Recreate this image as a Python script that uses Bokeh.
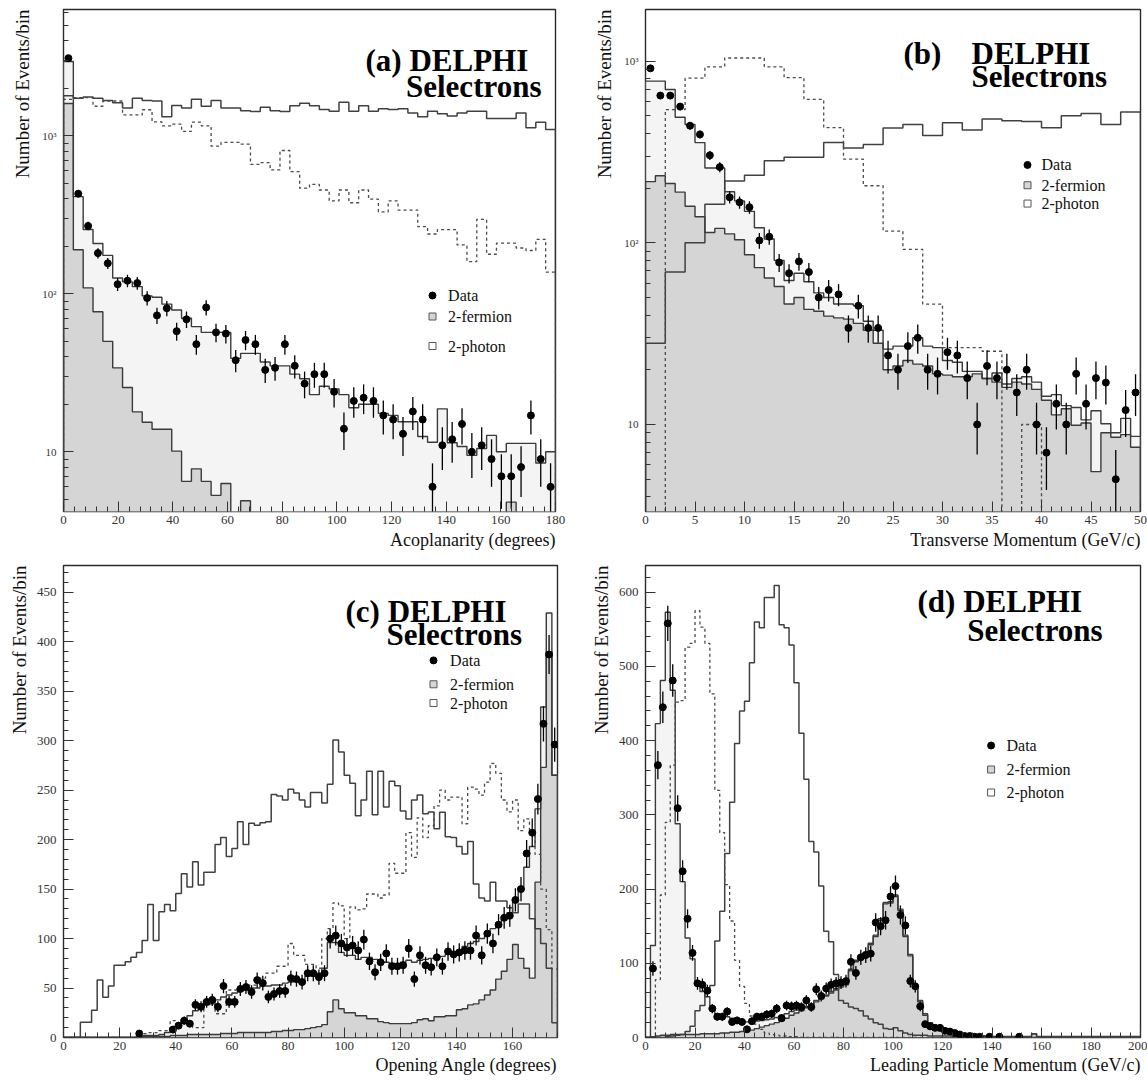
import numpy as np
from bokeh.plotting import figure
from bokeh.layouts import column, row
from bokeh.models import Range1d, FixedTicker, Label, Title, CustomJSTickFormatter
from bokeh.embed import file_html
from bokeh.resources import INLINE

FONT = "Liberation Serif"
FERMION_FILL = "#d5d5d5"
PHOTON_FILL = "#f4f4f4"
HIST_LINE = "#3a3a3a"
SIG_LINE = "#404040"
DASH_LINE = "#4a4a4a"

# ---------------- (a) Acoplanarity, 50 bins of 3.6 degrees ----------------
acop_edges = np.linspace(0, 180, 51)
acop_data = [3100, 430, 269, 181, 156, 115, 121, 117, 94, 73,
             81, 58, 69, 48, 82, 57, 56, 38, 51, 48,
             33, 34, 48, 35, 27, 31, 31, 24, 14, 21,
             22, 21, 17, 16, 13, 18, 16, 6, 11, 12,
             15, 10, 11, 9, 7, 7, 8, 17, 9, 6]
acop_total = [2950, 412, 255, 208, 175, 126, 119, 111, 97, 95,
              86, 79, 70, 62, 57, 57, 57, 39, 42, 42,
              37, 35, 35, 31, 29, 23, 26, 25, 23, 19,
              20, 20, 17.5, 17, 15.5, 15.5, 12.5, 11.5, 18.7, 11.4,
              10.8, 9.5, 10.5, 12.7, 10, 11.3, 11.3, 11.3, 8.5, 10]
acop_fermion = [1600, 190, 109, 77, 50, 34, 25.5, 17.9, 15.4, 13.9,
                13.9, 10.1, 6.5, 7.8, 6.5, 5.3, 6.3, 0, 4.9, 0,
                0, 0, 0, 0, 0, 0, 0, 0, 0, 0,
                0, 0, 0, 0, 0, 0, 0, 0, 0, 0,
                0, 0, 0, 0, 0, 4.8, 0, 0, 0, 0]
acop_sig_solid = [1791, 1727, 1763, 1727, 1675, 1617, 1499, 1727, 1675, 1660,
                  1321, 1553, 1499, 1702, 1538, 1675, 1499, 1499, 1440, 1425,
                  1514, 1440, 1425, 1549, 1608, 1549, 1469, 1430, 1630, 1430,
                  1549, 1430, 1485, 1469, 1485, 1392, 1320, 1430, 1377, 1334,
                  1392, 1430, 1430, 1286, 1286, 1286, 1392, 1125, 1219, 1095]
acop_sig_dashed = [1702, 1745, 1745, 1538, 1660, 1660, 1355, 1355, 1462, 1224,
                   1156, 1186, 1067, 1219, 1156, 861, 908, 908, 885, 659,
                   677, 608, 807, 593, 466, 492, 454, 387, 454, 377,
                   454, 397, 330, 387, 339, 339, 266, 239, 255, 255,
                   204, 160, 296, 178, 209, 209, 195, 188, 221, 137]

# ---------------- (b) Transverse momentum, 1 GeV bins (signal 2 GeV) ----------------
pt_edges = np.arange(0, 51, 1)
pt_sig_edges = np.arange(0, 51, 2)
pt_data = [912, 646, 646, 562, 441, 395, 303, 261, 178, 167,
           157, 103, 108, 78, 68, 79, 69, 50, 55, 52,
           34, 45, 34, 34, 24, 20, 27, 30, 20, 19,
           25, 24, 18, 10, 21, 18, 20, 15, 20, 10,
           7, 13, 10, 19, 13, 18, 17, 5, 12, 15]
pt_total = [776, 776, 698, 491, 448, 356, 258, 258, 191, 170,
            149, 121, 105, 80, 62, 68, 61, 53, 50, 46,
            46, 45, 37, 33, 26, 27, 27, 30, 27, 26.5,
            22.5, 22, 19.6, 19.6, 17.9, 19.2, 16.7, 17.9, 18.3, 17.1,
            14.3, 14.6, 12.7, 12.4, 10.6, 11.9, 10.1, 9.0, 10.8, 8.6]
pt_fermion = [217, 234, 212, 190, 159, 139, 114, 120, 112, 104,
              86, 73, 64, 57.5, 46, 50, 43, 42, 39.5, 38.6,
              38, 36, 33, 28, 20, 21, 22.5, 21.5, 21, 19,
              18.7, 18.3, 18.3, 19, 17.9, 17.1, 16, 17.1, 16.7, 15.6,
              13.6, 11.3, 12.2, 9.9, 10.2, 5.5, 9, 8.5, 8.8, 7.5]
pt_sig_solid = [28, 69, 100, 163, 219, 235, 283, 296, 296, 356,
                332, 348, 428, 448, 390, 458, 418, 480, 470, 465,
                430, 500, 514, 448, 525]
pt_sig_dashed = [0, 540, 805, 930, 1040, 1040, 930, 812, 615, 430,
                 289, 206, 116, 92, 46, 26.5, 26.5, 25.3, 0, 10,
                 0, 0, 0, 0, 0]

# ---------------- (c) Opening angle, 2 degree bins ----------------
open_edges = np.arange(0, 177, 2)
open_data = [0, 0, 0, 0, 0, 0, 0, 0, 0, 0,
             0, 0, 0, 4, 0, 0, 0, 0, 0, 8,
             12, 17, 14, 33, 31, 36, 38, 31, 52, 36,
             36, 49, 51, 46, 58, 55, 41, 44, 47, 47,
             60, 59, 56, 65, 65, 61, 65, 100, 103, 95,
             91, 93, 88, 99, 77, 66, 76, 85, 72, 72,
             73, 90, 59, 83, 73, 71, 81, 72, 87, 84,
             86, 88, 88, 103, 83, 105, 95, 114, 121, 123,
             139, 150, 186, 207, 241, 317, 387, 296]
open_total = [0, 0, 0, 0, 0, 0, 0, 0, 0, 0,
              0, 0, 0, 2, 2, 2, 2, 3, 5, 10,
              14, 18, 22, 27, 31, 33, 34, 38, 41, 43,
              45, 47, 48, 50, 50, 52, 52, 53, 53, 55,
              56, 57, 57, 62, 62, 65, 70, 96, 96, 86,
              83, 83, 79, 81, 81, 79, 77, 76, 75, 74,
              76, 78, 76, 78, 79, 80, 81, 82, 84, 86,
              88, 92, 95, 97, 100, 104, 110, 116, 120, 126,
              140, 152, 172, 193, 231, 334, 429, 265]
open_fermion = [0, 0, 0, 0, 0, 0, 0, 0, 0, 0,
                0, 0, 0, 1, 1, 1, 1, 1, 1, 2,
                2, 2, 3, 3, 3, 3, 3, 3, 4, 4,
                4, 5, 5, 5, 5, 5, 5, 6, 6, 7,
                7, 8, 8, 9, 10, 11, 13, 26, 38, 29,
                25, 25, 22, 22, 19, 19, 16, 15, 14, 14,
                14, 14, 15, 18, 19, 17, 21, 21, 22, 22,
                28, 29, 33, 34, 38, 43, 48, 59, 67, 79,
                94, 80, 70, 60, 157, 273, 390, 265]
open_sig_solid = [0, 0, 0, 15.5, 15.5, 27.6, 58, 40.7, 52, 73,
                  73, 76.5, 81, 86, 98, 134.5, 98, 127, 134.5, 128,
                  145.5, 165.5, 152, 177.6, 154, 167, 167, 195, 202, 183,
                  191, 218, 195, 216.5, 214.5, 217, 218, 245.5, 244, 240,
                  251, 247, 240, 233, 247.6, 247.6, 237, 256, 300.7, 288.6,
                  265, 257, 224, 240, 269, 225, 269, 233, 259, 254.5,
                  229, 220.7, 240, 245, 226, 228, 211, 227.6, 203, 202,
                  193, 185.5, 198, 155, 141, 138, 157, 138, 138, 131,
                  126, 135, 135, 120, 110, 95, 70, 15]
open_sig_dashed = [0, 0, 0, 0, 0, 0, 0, 0, 0, 0,
                   0, 0, 0, 0, 4, 5, 5, 7, 7, 17,
                   15, 15, 14, 10, 10, 34, 34, 24, 24, 48,
                   48, 48, 48, 53, 53, 60, 65, 65, 72, 72,
                   95, 83, 83, 74, 74, 70, 100, 110, 136, 133,
                   100, 132, 129, 130, 145, 145, 141, 144, 176, 166,
                   166, 207, 182, 222, 202, 214, 234, 250, 240, 243,
                   243, 216, 253, 251, 245, 258, 277, 267, 240, 228,
                   240, 209, 221, 209, 185, 150, 109, 69]

# ---------------- (d) Leading particle momentum, 2 GeV bins ----------------
mom_edges = np.arange(0, 201, 2)
mom_data = [0, 93, 367, 445, 558, 481, 309, 224, 160, 114,
            73, 71, 63, 39, 28, 28, 35, 21, 23, 21,
            11, 22, 28, 28, 31, 32, 39, 26, 43, 42,
            43, 41, 50, 41, 65, 56, 66, 71, 73, 74,
            76, 102, 87, 108, 111, 113, 155, 150, 158, 190,
            204, 165, 151, 76, 69, 42, 18, 15, 13, 13,
            9, 8, 6, 4, 2, 2, 1, 1, 0, 1,
            0, 1, 0, 0, 0, 1, 0, 0, 0, 0,
            0, 0, 0, 0, 0, 0, 0, 0, 0, 0,
            0, 0, 0, 0, 0, 0, 0, 0, 0, 0]
mom_total = [0, 124, 423, 481, 573, 468, 288, 210, 134, 106,
             75, 62, 55, 40, 32, 30, 28, 26, 24, 22,
             21, 21, 22, 23, 24, 25, 27, 30, 32, 35,
             37, 40, 42, 45, 50, 54, 57, 62, 66, 70,
             73, 92, 104, 110, 115, 127, 138, 160, 182, 183,
             192, 173, 138, 112, 70, 50, 32, 20, 13, 10,
             8, 6, 5, 4, 3, 3, 2, 2, 2, 2,
             1.5, 1.5, 1.5, 1.5, 1.5, 1.5, 1.5, 1.5, 5, 1.5,
             1.5, 1.5, 1.5, 1.5, 1.5, 1.5, 1.5, 1.5, 1.5, 1.5,
             1.5, 1.5, 1.5, 1.5, 1.5, 1.5, 1.5, 1.5, 1.5, 1.5]
mom_fermion = [0, 1, 2, 3, 3, 4, 4, 4, 4, 4,
               4, 5, 5, 5, 5, 6, 6, 7, 7, 8,
               9, 10, 12, 14, 16, 18, 20, 23, 26, 30,
               33, 36, 40, 43, 48, 52, 56, 60, 64, 68,
               71, 90, 102, 108, 113, 125, 136, 158, 180, 181,
               190, 171, 136, 110, 68, 48, 30, 18, 12, 9,
               7, 5, 4, 3, 2.5, 2.5, 2, 2, 2, 2,
               1, 1, 1, 1, 1, 1, 1, 1, 5, 1,
               1, 1, 1, 1, 1, 1, 1, 1, 1, 1,
               1, 1, 1, 1, 1, 1, 1, 1, 1, 1]
mom_sig_solid = [0, 0, 0, 0, 1, 2, 3, 4, 8, 15,
                 36, 43, 66, 70, 130, 170, 248, 317, 396, 440,
                 453, 505, 560, 552, 593, 593, 609, 556, 552, 529,
                 478, 410, 348, 264, 250, 204, 143, 129, 85, 50,
                 46, 41, 39, 36, 29, 25, 20, 18, 12, 11,
                 13, 9, 6, 4, 3, 3, 3, 2, 2, 2,
                 2, 2, 1, 1, 1, 1, 1, 1, 1, 1,
                 1, 0, 0, 0, 0, 0, 0, 0, 0, 0,
                 0, 0, 0, 0, 0, 0, 0, 0, 0, 0,
                 0, 0, 0, 0, 0, 0, 0, 0, 0, 0]
mom_sig_dashed = [0, 0, 78, 192, 290, 367, 452, 454, 526, 531,
                  575, 553, 531, 463, 333, 276, 206, 157, 104, 69,
                  46, 29, 18, 11, 6, 4, 3, 2, 2, 1,
                  1, 0, 0, 0, 0, 0, 0, 0, 0, 0,
                  0, 0, 0, 0, 0, 0, 0, 0, 0, 0,
                  0, 0, 0, 0, 0, 0, 0, 0, 0, 0,
                  0, 0, 0, 0, 0, 0, 0, 0, 0, 0,
                  0, 0, 0, 0, 0, 0, 0, 0, 0, 0,
                  0, 0, 0, 0, 0, 0, 0, 0, 0, 0,
                  0, 0, 0, 0, 0, 0, 0, 0, 0, 0]

LEGEND_ITEMS = ["Data", "2-fermion", "2-photon"]
Y_TITLE = "Number of Events/bin"


def step_xy(edges, values, floor):
    v = np.asarray(values, dtype=float)
    v = np.where(v > 0, v, floor)
    xs = np.repeat(np.asarray(edges, dtype=float), 2)
    ys = np.concatenate([[floor], np.repeat(v, 2), [floor]])
    return xs, ys


def frame_size(spec):
    fw = spec["width"] - spec["left"] - spec["right"]
    fh = spec["height"] - spec["top"] - spec["bottom"]
    return fw, fh


def px2data(spec, dx, dy):
    fw, fh = frame_size(spec)
    x0, x1 = spec["xr"]
    y0, y1 = spec["yr"]
    fx = x0 + dx / fw * (x1 - x0)
    t = 1.0 - dy / fh
    if spec["log"]:
        fy = 10 ** (np.log10(y0) + t * (np.log10(y1) - np.log10(y0)))
    else:
        fy = y0 + t * (y1 - y0)
    return fx, fy


def make_panel(spec, edges, total, fermion, sig_edges, sig_solid, sig_dashed, data,
               xlabel, xticks, xminor, yticks, yminor):
    log = spec["log"]
    p = figure(width=spec["width"], height=spec["height"],
               x_range=Range1d(*spec["xr"]), y_range=Range1d(*spec["yr"]),
               y_axis_type="log" if log else "linear",
               output_backend="svg", toolbar_location=None, title=None,
               min_border_left=spec["left"], min_border_right=spec["right"],
               min_border_top=spec["top"], min_border_bottom=spec["bottom"])
    p.background_fill_color = "white"
    p.border_fill_color = "white"
    p.outline_line_color = "#2a2a2a"
    p.outline_line_width = 1.4
    p.grid.visible = False

    floor = 1e-3 if log else 0.0
    xs, yt = step_xy(edges, total, floor)
    _, yf = step_xy(edges, fermion, floor)
    p.varea(x=xs, y1=np.full_like(xs, floor), y2=yf, fill_color=FERMION_FILL)
    p.varea(x=xs, y1=yf, y2=yt, fill_color=PHOTON_FILL)
    p.line(xs, yt, line_color=HIST_LINE, line_width=1.4)
    p.line(xs, yf, line_color=HIST_LINE, line_width=1.4)

    sx, sy = step_xy(sig_edges, sig_solid, floor)
    p.line(sx, sy, line_color=SIG_LINE, line_width=1.5)
    dx_, dy_ = step_xy(sig_edges, sig_dashed, floor)
    p.line(dx_, dy_, line_color=DASH_LINE, line_width=1.3, line_dash="3 3")

    d = np.asarray(data, dtype=float)
    c = 0.5 * (np.asarray(edges[:-1], float) + np.asarray(edges[1:], float))
    m = d > 0
    err = np.sqrt(d[m])
    lo = np.maximum(d[m] - err, 1e-3 if log else 0.0)
    p.segment(x0=c[m], y0=lo, x1=c[m], y1=d[m] + err, line_color="black", line_width=1.3)
    p.scatter(x=c[m], y=d[m], size=7, color="black")

    # titles inside the frame
    for txt, dxp, dyp in spec["titles"]:
        tx, ty = px2data(spec, dxp, dyp)
        p.add_layout(Label(x=tx, y=ty, text=txt, text_font=FONT, text_font_size="31px",
                           text_font_style="bold", text_color="black",
                           text_baseline="alphabetic", text_align="left"))
    # legend
    mdx, tdx, dys = spec["legend"]
    for i, item in enumerate(LEGEND_ITEMS):
        mx, my = px2data(spec, mdx, dys[i])
        tx, _ = px2data(spec, tdx, dys[i])
        if i == 0:
            p.scatter(x=[mx], y=[my], size=7, color="black")
        else:
            p.scatter(x=[mx], y=[my], marker="square", size=7,
                      fill_color=FERMION_FILL if i == 1 else "white",
                      line_color="#555555", line_width=1)
        p.add_layout(Label(x=tx, y=my, text=item, text_font=FONT, text_font_size="16px",
                           text_color="#111111", text_baseline="middle", text_align="left"))

    # axes
    xa = p.xaxis[0]
    ya = p.yaxis[0]
    xa.ticker = FixedTicker(ticks=xticks, minor_ticks=xminor)
    ya.ticker = FixedTicker(ticks=yticks, minor_ticks=yminor)
    if log:
        ya.formatter = CustomJSTickFormatter(code="""
            const e = Math.round(Math.log10(tick));
            const sup = {2: "\u00b2", 3: "\u00b3", 4: "\u2074"};
            if (e == 1) { return "10"; }
            return "10" + (sup[e] || "");
        """)
    for ax in (xa, ya):
        ax.axis_line_color = None
        ax.major_tick_in = 10
        ax.major_tick_out = 0
        ax.minor_tick_in = 5
        ax.minor_tick_out = 0
        ax.major_tick_line_color = "#333333"
        ax.minor_tick_line_color = "#333333"
        ax.major_label_text_font = FONT
        ax.major_label_text_color = "#333333"
    xa.major_label_text_font_size = "13px"
    xa.major_label_standoff = 4
    ya.major_label_text_font_size = "11px" if log else "13px"
    ya.major_label_standoff = 7

    # axis titles, ROOT style (right / top aligned)
    p.add_layout(Title(text=xlabel, align="right", text_font=FONT, text_font_size="18px",
                       text_font_style="normal", text_color="#111111",
                       standoff=spec["xt_standoff"]), "below")
    p.add_layout(Title(text=Y_TITLE, align="right", text_font=FONT, text_font_size="19px",
                       text_font_style="normal", text_color="#111111",
                       standoff=spec["yt_standoff"]), "left")
    return p


spec_a = dict(width=578, height=556, left=63, right=23, top=9, bottom=45,
              xr=(0, 180), yr=(4.19, 6300), log=True,
              titles=[("(a) DELPHI", 302, 51), ("Selectrons", 342.5, 77)],
              legend=(369, 384.6, [286, 307, 336.5]),
              xt_standoff=3, yt_standoff=13)
spec_b = dict(width=569, height=556, left=67, right=7, top=7, bottom=42,
              xr=(0, 50), yr=(3.32, 1923), log=True,
              titles=[("(b)", 258, 44), ("DELPHI", 326, 44), ("Selectrons", 326, 68)],
              legend=(382, 396, [157, 177.5, 196]),
              xt_standoff=2, yt_standoff=14)
spec_c = dict(width=578, height=525, left=63, right=21, top=5, bottom=44,
              xr=(0, 176), yr=(0, 477), log=False,
              titles=[("(c) DELPHI", 282, 46), ("Selectrons", 323, 70)],
              legend=(370, 386.6, [95.7, 119.8, 138.7]),
              xt_standoff=1, yt_standoff=8)
spec_d = dict(width=569, height=525, left=67, right=7, top=9, bottom=44,
              xr=(0, 200), yr=(0, 636), log=False,
              titles=[("(d) DELPHI", 272, 36), ("Selectrons", 321.7, 65)],
              legend=(345.6, 361, [180, 204, 227]),
              xt_standoff=1, yt_standoff=8)

log_minor = [v * 10 ** e for e in range(0, 4) for v in range(2, 10)]

pa = make_panel(spec_a, acop_edges, acop_total, acop_fermion, acop_edges,
                acop_sig_solid, acop_sig_dashed, acop_data, "Acoplanarity (degrees)",
                list(range(0, 181, 20)), list(range(0, 181, 4)),
                [10, 100, 1000], log_minor)
pb = make_panel(spec_b, pt_edges, pt_total, pt_fermion, pt_sig_edges,
                pt_sig_solid, pt_sig_dashed, pt_data, "Transverse Momentum (GeV/c)",
                list(range(0, 51, 5)), list(range(0, 51, 1)),
                [10, 100, 1000], log_minor)
pc = make_panel(spec_c, open_edges, open_total, open_fermion, open_edges,
                open_sig_solid, open_sig_dashed, open_data, "Opening Angle (degrees)",
                list(range(0, 161, 20)), list(range(0, 177, 4)),
                list(range(0, 451, 50)), list(range(0, 471, 10)))
pd_ = make_panel(spec_d, mom_edges, mom_total, mom_fermion, mom_edges,
                 mom_sig_solid, mom_sig_dashed, mom_data, "Leading Particle Momentum (GeV/c)",
                 list(range(0, 201, 20)), list(range(0, 201, 4)),
                 list(range(0, 601, 100)), list(range(0, 636, 20)))

layout = column(row(pa, pb), row(pc, pd_))
open("out.html", "w").write(file_html(layout, INLINE))
